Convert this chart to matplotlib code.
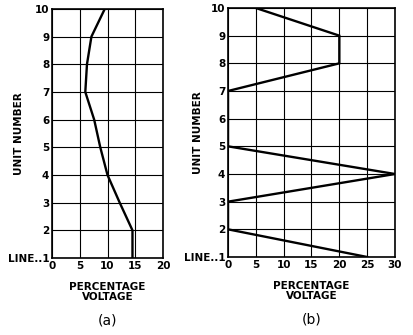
import numpy as np
import matplotlib
matplotlib.use("Agg")
import matplotlib.pyplot as plt

plt.rcParams["font.family"] = "DejaVu Sans"
plt.rcParams["font.weight"] = "bold"

# ---- data ----
units = [1, 2, 3, 4, 5, 6, 7, 8, 9, 10]
volt_a = [14.5, 14.5, 12.2, 10.0, 8.7, 7.6, 6.0, 6.3, 7.1, 9.5]
volt_b = [25, 0, 0, 30, 0, 0, 0, 20, 20, 5]

yticks = [1, 2, 3, 4, 5, 6, 7, 8, 9, 10]
ylabels = ["LINE..1", "2", "3", "4", "5", "6", "7", "8", "9", "10"]
xticks_a = [0, 5, 10, 15, 20]
xticks_b = [0, 5, 10, 15, 20, 25, 30]

W, H = 414, 335
fig = plt.figure(figsize=(W / 100, H / 100), dpi=100)

def panel(rect, x, y, xt, cap, ylab_x):
    ax = fig.add_axes(rect)
    ax.plot(x, y, color="black", lw=1.7, solid_joinstyle="miter")
    ax.set_xlim(xt[0], xt[-1]); ax.set_ylim(1, 10)
    ax.set_xticks(xt); ax.set_yticks(yticks)
    ax.set_xticklabels([str(v) for v in xt], fontsize=7.5, fontweight="bold")
    ax.set_yticklabels(ylabels, fontsize=7.5, fontweight="bold")
    ax.tick_params(length=0, pad=2)
    ax.grid(True, color="black", lw=0.8)
    for s in ax.spines.values():
        s.set_linewidth(1.2)
    ax.set_xlabel("PERCENTAGE\nVOLTAGE", fontsize=7.5, fontweight="bold", labelpad=8, linespacing=1.0)
    ax.set_ylabel("UNIT NUMBER", fontsize=7.5, fontweight="bold")
    ax.yaxis.set_label_coords(ylab_x, 0.5)
    ax.text(0.5, -0.25, cap, transform=ax.transAxes, ha="center", va="center",
            fontsize=10, fontweight="normal")
    return ax

panel([52 / W, 1 - 258 / H, 111 / W, 249 / H], volt_a, units, xticks_a, "(a)", -0.25)
panel([228 / W, 1 - 257 / H, 167 / W, 249 / H], volt_b, units, xticks_b, "(b)", -0.15)

fig.savefig("out.png", dpi=100, facecolor="white")
